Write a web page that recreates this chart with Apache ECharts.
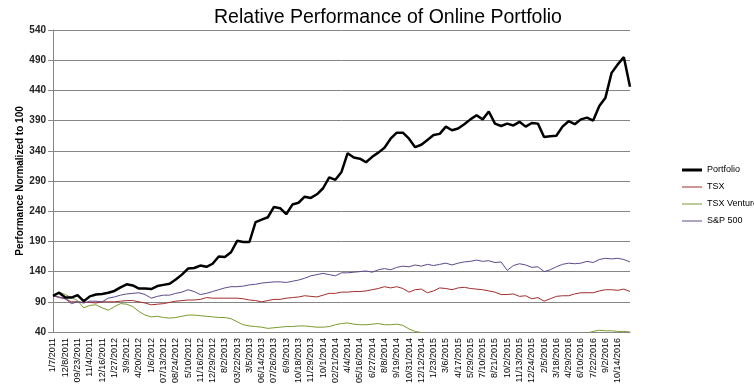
<!DOCTYPE html>
<html>
<head>
<meta charset="utf-8">
<script src="https://cdn.jsdelivr.net/npm/echarts@6/dist/echarts.min.js"></script>
<style>
html,body{margin:0;padding:0;background:#fff;}
#chart{width:754px;height:390px;}
</style>
</head>
<body>
<div id="chart"></div>
<script>
// Tick labels (every 6 weeks; one data point every 3 weeks)
const tickLabels = ["1/7/2011","12/8/2011","09/23/2011","11/4/2011","12/16/2011","1/27/2012","3/9/2012","4/20/2012","1/6/2012","07/13/2012","08/24/2012","5/10/2012","11/16/2012","12/29/2012","8/2/2013","03/22/2013","3/5/2013","06/14/2013","07/26/2013","6/9/2013","10/18/2013","11/29/2013","10/1/2014","02/21/2014","4/4/2014","05/16/2014","6/27/2014","8/8/2014","9/19/2014","10/31/2014","12/12/2014","1/23/2015","3/6/2015","4/17/2015","5/29/2015","7/10/2015","8/21/2015","10/2/2015","11/13/2015","12/24/2015","2/5/2016","3/18/2016","4/29/2016","6/10/2016","7/22/2016","9/2/2016","10/14/2016"];
const pointsPerLabel = 2;

const portfolio = [100,105,97,97,101,91,99,102,103,105,108,114,119,117,112,112,111,116,118,120,127,135,145,146,150,148,153,165,164,172,191,189,189,222,226,230,247,245,235,251,254,264,262,268,278,296,292,305,336,329,327,321,330,337,345,360,370,370,360,346,350,358,366,368,380,374,377,384,392,399,392,405,385,381,385,382,388,380,386,385,363,364,365,380,389,384,392,395,390,414,428,469,483,495,446];
const tsx = [100,97,95,90,90,89,89,88,90,90,90,91,92,92,90,88,85,86,87,89,91,92,93,93,94,97,96,96,96,96,96,95,93,92,90,92,94,94,96,97,98,100,99,98,101,104,104,106,106,107,107,108,110,112,115,113,115,112,106,110,111,105,108,113,112,110,113,114,112,111,110,108,106,102,102,103,99,100,95,97,91,95,99,100,100,103,105,105,105,108,110,110,109,111,107];
const tsxVenture = [100,106,102,97,92,80,84,85,80,76,82,87,86,82,74,68,65,66,64,63,64,66,68,68,67,66,65,64,64,62,57,52,50,49,48,46,47,48,49,49,50,50,49,48,48,49,52,54,55,53,52,52,53,54,52,52,53,51,45,41,39,37,null,null,null,null,null,null,null,null,null,null,null,null,null,null,null,null,null,null,null,null,null,null,null,null,37,38,41,43,42,42,41,41,40];
const sp500 = [100,98,95,87,90,88,91,91,90,96,98,101,103,104,105,102,96,99,101,101,104,106,110,107,102,104,107,110,113,115,115,116,118,119,121,122,123,123,122,124,126,129,133,135,137,135,133,138,138,139,140,141,139,143,145,143,147,149,148,151,149,152,150,152,154,151,154,156,157,159,157,158,155,156,142,150,153,151,147,148,140,143,148,152,154,153,154,157,155,160,162,161,162,160,156];

const yMin = 40, yMax = 540, yStep = 50;

function pairs(arr){ return arr.map((v,i)=>[i, v]); }
const lastIdx = portfolio.length - 1;

// legend line icons (bbox padded by zero-length segments so the bar keeps its thickness)
const thinIcon = 'path://M0,0L0.01,0M0,10L0.01,10M0,4.5L20,4.5L20,5.5L0,5.5Z';
const thickIcon = 'path://M0,0L0.01,0M0,10L0.01,10M0,3.5L20,3.5L20,6.5L0,6.5Z';

const chart = echarts.init(document.getElementById('chart'));
const font = 'Liberation Sans, Arial, sans-serif';
chart.setOption({
  animation:false,
  backgroundColor:'#fff',
  title:{
    text:'Relative Performance of Online Portfolio',
    left:383, top:3, textAlign:'center',
    textStyle:{fontFamily:font, fontSize:19.5, fontWeight:'normal', color:'#000'}
  },
  legend:{
    orient:'vertical', left:677, top:160, itemGap:7,
    itemWidth:20, itemHeight:10,
    textStyle:{fontFamily:font, fontSize:9, color:'#000'},
    data:[
      {name:'Portfolio', icon:thickIcon},
      {name:'TSX', icon:thinIcon},
      {name:'TSX Venture', icon:thinIcon},
      {name:'S&P 500', icon:thinIcon}
    ]
  },
  grid:{left:53, right:124, top:30, bottom:58, containLabel:false},
  xAxis:{
    type:'value', min:0, max:lastIdx, interval:pointsPerLabel,
    axisLine:{show:true, lineStyle:{color:'#868686'}},
    axisTick:{show:false},
    splitLine:{show:false},
    axisLabel:{
      rotate:90, fontFamily:font, fontSize:9, color:'#000', margin:6,
      showMaxLabel:false,
      formatter:function(v){ const k = Math.round(v/pointsPerLabel); return (Math.abs(v/pointsPerLabel-k)<1e-6 && tickLabels[k]) ? tickLabels[k] : ''; }
    }
  },
  yAxis:{
    type:'value', min:yMin, max:yMax, interval:yStep,
    name:'Performance Normalized to 100', nameLocation:'middle', nameGap:28,
    nameMoveOverlap:false,
    nameTextStyle:{fontFamily:font, fontSize:10, fontWeight:'bold', color:'#000'},
    axisLine:{show:true, lineStyle:{color:'#868686'}},
    axisTick:{show:true, length:5, lineStyle:{color:'#868686'}},
    splitLine:{show:true, lineStyle:{color:'#868686', width:1}},
    axisLabel:{fontFamily:font, fontSize:10, fontWeight:'bold', color:'#222', margin:7}
  },
  series:[
    {name:'Portfolio', type:'line', data:pairs(portfolio), showSymbol:false, symbol:'none', lineStyle:{color:'#000', width:2.5}, itemStyle:{color:'#000'}, z:5},
    {name:'TSX', type:'line', data:pairs(tsx), showSymbol:false, symbol:'none', lineStyle:{color:'#A32D2D', width:1}, itemStyle:{color:'#A32D2D'}},
    {name:'TSX Venture', type:'line', data:pairs(tsxVenture), showSymbol:false, symbol:'none', lineStyle:{color:'#7A9A2E', width:1}, itemStyle:{color:'#7A9A2E'}},
    {name:'S&P 500', type:'line', data:pairs(sp500), showSymbol:false, symbol:'none', lineStyle:{color:'#5E4A8A', width:1}, itemStyle:{color:'#5E4A8A'}}
  ]
});
</script>
</body>
</html>
